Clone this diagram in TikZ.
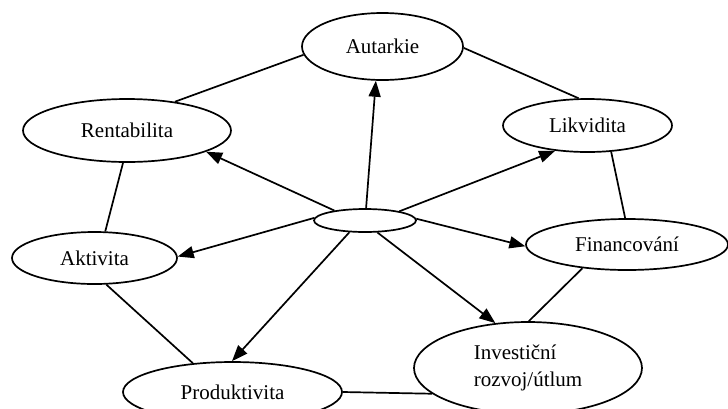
\documentclass[tikz,border=0pt]{standalone}
\usepackage{fontspec}
\setmainfont{Liberation Serif}
\usetikzlibrary{shapes.geometric,arrows.meta}
\begin{document}
\begin{tikzpicture}[x=1pt,y=-1pt,
  oval/.style={ellipse,draw,line width=1.7pt,inner sep=0pt,
    font=\fontsize{21}{27}\selectfont},
  link/.style={line width=1.7pt},
  flow/.style={line width=1.7pt,-{Triangle[length=16pt,width=12pt]}}]
\useasboundingbox (0,0) rectangle (728,408);
\clip (0,0) rectangle (728,408);

% ellipses
\node[oval,minimum width=161pt,minimum height=67pt] (aut) at (382.5,46.5) {Autarkie};
\node[oval,minimum width=208pt,minimum height=63pt] (ren) at (127,130.5) {Rentabilita};
\node[oval,minimum width=169pt,minimum height=53pt] (lik) at (587.5,125.5) {Likvidita};
\node[oval,minimum width=165pt,minimum height=52pt] (akt) at (94.5,258) {Aktivita};
\node[oval,minimum width=202pt,minimum height=51pt] (fin) at (627,244.5) {Financování};
\node[oval,minimum width=219pt,minimum height=60pt] (pro) at (232.5,392) {Produktivita};
\node[oval,minimum width=228pt,minimum height=92pt,align=left] (inv) at (528,368) {Investiční\\rozvoj/útlum};
\node[oval,minimum width=102pt,minimum height=23pt] (mid) at (365,220.5) {};

% outer ring
\draw[link] (ren.31) -- (aut.186);
\draw[link] (aut.-1) -- (lik.108);
\draw[link] (ren.263) -- (akt.68);
\draw[link] (lik.-48) -- (fin.94);
\draw[link] (akt.-66) -- (pro.144);
\draw[link] (fin.208) -- (inv.89);
\draw[link] (pro.0) -- (inv.195);

% arrows from the hub
\draw[flow] (mid.85) -- (aut.259);
\draw[flow] (mid.162) -- (ren.-15);
\draw[flow] (mid.15) -- (lik.218);
\draw[flow] (mid.177) -- (akt.1);
\draw[flow] (mid.2) -- (fin.181);
\draw[flow] (mid.217) -- (pro.91);
\draw[flow] (mid.-44) -- (inv.126);
\end{tikzpicture}
\end{document}
